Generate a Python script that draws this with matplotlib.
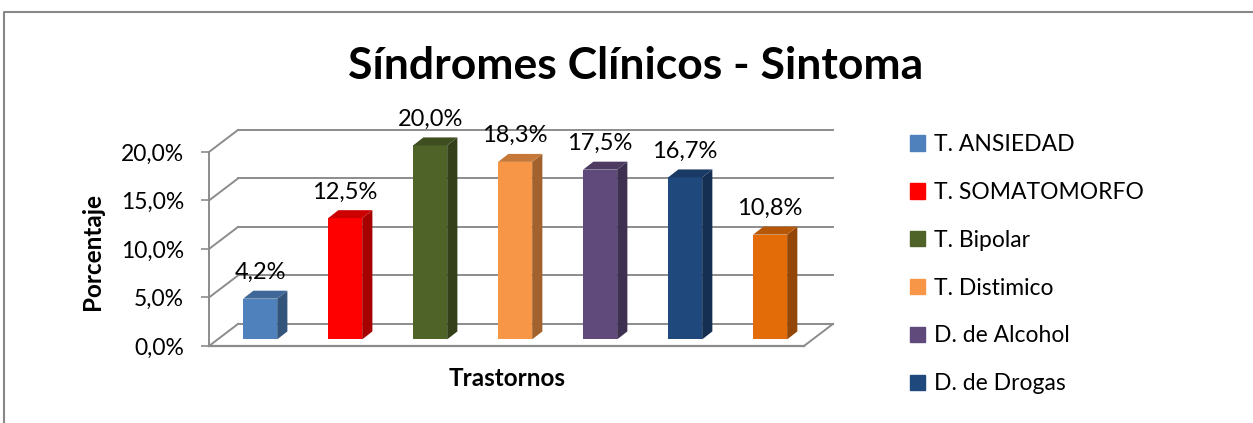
import matplotlib
matplotlib.use("Agg")
import matplotlib.pyplot as plt
from matplotlib.patches import Patch
from matplotlib.lines import Line2D
from matplotlib.ticker import FuncFormatter
import numpy as np

plt.rcParams['font.family'] = ['Lato', 'DejaVu Sans']

# data
valores = [4.2, 12.5, 20.0, 18.3, 17.5, 16.7, 10.8]
colores = ["#4F81BD", "#FF0000", "#4F6228", "#F79646", "#604A7B", "#1F497D", "#E36C09"]
leyenda = ["T. ANSIEDAD", "T. SOMATOMORFO", "T. Bipolar", "T. Distimico",
           "D. de Alcohol", "D. de Drogas"]
yticks = [0, 5, 10, 15, 20]

W, H = 1253, 423
fig = plt.figure(figsize=(W / 100, H / 100), dpi=100)

# axes placed in pixels: front floor from x=209, y=0 at 346px, 22.06% at 132px
ax = fig.add_axes([209 / W, (H - 346) / H, 623 / W, 214 / H])
n = len(valores)
ax.set_xlim(-0.5, 6.83)
ax.set_ylim(0, 22.06)

# depth of the 3d box and of each bar
dx, dy = 0.341, 2.27
f = 0.3
ox, oy = f * dx, f * dy
bdx, bdy = 0.12, 0.82
w = 0.4
grid_c = "#8c8c8c"

# back wall gridlines + side wall diagonals
for y in yticks:
    ax.plot([-0.5 + dx, n - 0.5 + dx], [y + dy, y + dy], color=grid_c, lw=1.4,
            clip_on=False, zorder=1)
    ax.plot([-0.5, -0.5 + dx], [y, y + dy], color=grid_c, lw=1.4, clip_on=False, zorder=1)
# front axis + floor edges
ax.plot([-0.5, -0.5], [0, 20], color=grid_c, lw=1.4, clip_on=False, zorder=1)
ax.plot([-0.5, n - 0.5], [0, 0], color=grid_c, lw=1.6, clip_on=False, zorder=1)
ax.plot([n - 0.5, n - 0.5 + dx], [0, dy], color=grid_c, lw=1.4, clip_on=False, zorder=1)


def shade(c, k):
    r, g, b = matplotlib.colors.to_rgb(c)
    return (r * k, g * k, b * k)


x = np.arange(n)
ax.bar(x + ox, valores, width=w, bottom=oy, color=colores, zorder=3)
for i, v in enumerate(valores):
    xl = i + ox - w / 2
    xr = i + ox + w / 2
    top = oy + v
    ax.fill([xr, xr + bdx, xr + bdx, xr], [oy, oy + bdy, top + bdy, top],
            color=shade(colores[i], 0.65), zorder=3, lw=0)
    ax.fill([xl, xr, xr + bdx, xl + bdx], [top, top, top + bdy, top + bdy],
            color=shade(colores[i], 0.8), zorder=3, lw=0)
    ax.text(i + ox, top + 2.7, ("%.1f%%" % v).replace(".", ","), ha="center",
            va="center", fontsize=17, clip_on=False)

ax.set_xticks([])
ax.set_yticks(yticks)
ax.yaxis.set_major_formatter(FuncFormatter(lambda v, p: ("%.1f%%" % v).replace(".", ",")))
ax.tick_params(axis="y", length=6, width=1.2, color=grid_c, pad=12, labelsize=16.5)
for s in ax.spines.values():
    s.set_visible(False)
ax.patch.set_visible(False)

fig.text(636 / W, 1 - 66 / H, "Síndromes Clínicos - Sintoma", ha="center", va="center",
         fontsize=32, fontweight="bold")
fig.text(92 / W, 1 - 251 / H, "Porcentaje", rotation=90, ha="center", va="center",
         fontsize=17.5, fontweight="bold")
fig.text(507 / W, 1 - 378 / H, "Trastornos", ha="center", va="center",
         fontsize=17.5, fontweight="bold")

handles = [Patch(color=colores[i]) for i in range(len(leyenda))]
fig.legend(handles, leyenda, loc="upper left", bbox_to_anchor=(901 / W, 1 - 125 / H),
           frameon=False, fontsize=16.5, handlelength=0.65, handleheight=0.65,
           handletextpad=0.4, labelspacing=1.17, borderaxespad=0)

# outer chart border (top and left edges)
fig.add_artist(Line2D([4 / W, 4 / W, 1], [0, 1 - 12 / H, 1 - 12 / H],
                      transform=fig.transFigure, color="#888888", lw=1.5))

fig.savefig("out.png", dpi=100)
